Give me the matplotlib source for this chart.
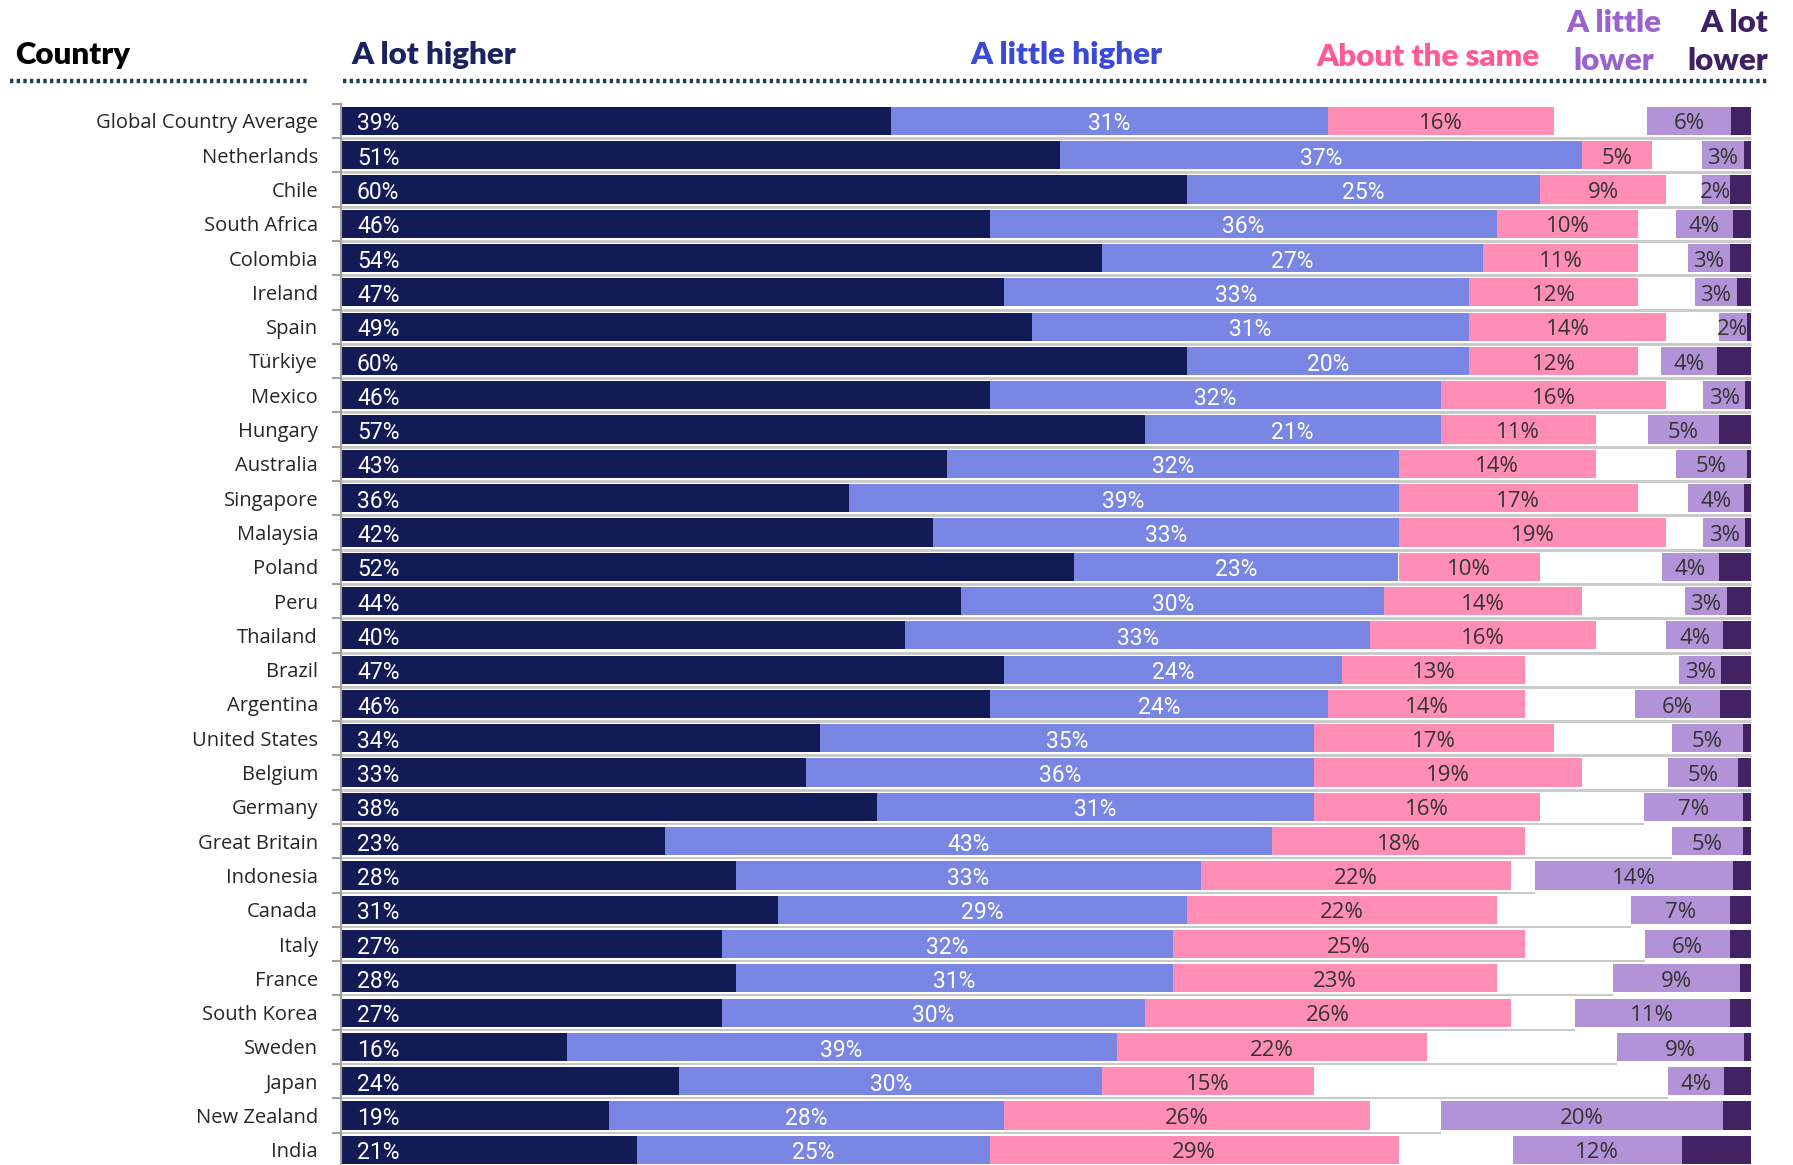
import numpy as np
import matplotlib
matplotlib.use("Agg")
import matplotlib.pyplot as plt
from matplotlib.lines import Line2D

countries = ["Global Country Average", "Netherlands", "Chile", "South Africa", "Colombia",
             "Ireland", "Spain", "Türkiye", "Mexico", "Hungary", "Australia", "Singapore",
             "Malaysia", "Poland", "Peru", "Thailand", "Brazil", "Argentina", "United States",
             "Belgium", "Germany", "Great Britain", "Indonesia", "Canada", "Italy", "France",
             "South Korea", "Sweden", "Japan", "New Zealand", "India"]
a_lot_higher = [39, 51, 60, 46, 54, 47, 49, 60, 46, 57, 43, 36, 42, 52, 44, 40, 47, 46, 34,
                33, 38, 23, 28, 31, 27, 28, 27, 16, 24, 19, 21]
a_little_higher = [31, 37, 25, 36, 27, 33, 31, 20, 32, 21, 32, 39, 33, 23, 30, 33, 24, 24, 35,
                   36, 31, 43, 33, 29, 32, 31, 30, 39, 30, 28, 25]
about_the_same = [16, 5, 9, 10, 11, 12, 14, 12, 16, 11, 14, 17, 19, 10, 14, 16, 13, 14, 17,
                  19, 16, 18, 22, 22, 25, 23, 26, 22, 15, 26, 29]
a_little_lower = [6, 3, 2, 4, 3, 3, 2, 4, 3, 5, 5, 4, 3, 4, 3, 4, 3, 6, 5,
                  5, 7, 5, 14, 7, 6, 9, 11, 9, 4, 20, 12]
a_lot_lower = [1.4, 0.5, 1.5, 1.3, 1.5, 1.0, 0.3, 2.4, 0.4, 2.3, 0.3, 0.5, 0.4, 2.3, 1.7, 2.0,
               2.1, 2.2, 0.6, 0.9, 0.6, 0.6, 1.3, 1.5, 1.5, 0.8, 1.5, 0.5, 1.9, 2.0, 4.9]
header_labels = ["A lot higher", "A little higher", "About the same", "A little\nlower", "A lot\nlower"]

C_LOT_HI = "#131b57"
C_LIT_HI = "#7a86e3"
C_SAME = "#ff8db6"
C_LIT_LO = "#b393d8"
C_LOT_LO = "#432264"

W, H = 1793, 1165
fig = plt.figure(figsize=(W / 100, H / 100), dpi=100)
top_px, bot_px = 103.7, 1167.0
ax = fig.add_axes([341 / W, 1 - bot_px / H, (1751 - 341) / W, (bot_px - top_px) / H])

n = len(countries)
y = np.arange(n)
lot_hi = np.array(a_lot_higher, float)
lit_hi = np.array(a_little_higher, float)
same = np.array(about_the_same, float)
lit_lo = np.array(a_little_lower, float)
lot_lo = np.array(a_lot_lower, float)

h = 0.82
left2 = lot_hi
left3 = lot_hi + lit_hi
lotlo_left = 100 - lot_lo
litlo_left = lotlo_left - lit_lo

# light grey separators under each row
for i in range(n):
    xend = 100 if i < 20 else litlo_left[i]
    lw = 2.0 if i < 20 else 1.4
    ax.plot([0, xend], [i + 0.5, i + 0.5], color="#c8c8c8", lw=lw, zorder=1,
            solid_capstyle="butt", clip_on=False)

ax.barh(y, lot_hi, height=h, left=0, color=C_LOT_HI, zorder=2)
ax.barh(y, lit_hi, height=h, left=left2, color=C_LIT_HI, zorder=2)
ax.barh(y, same, height=h, left=left3, color=C_SAME, zorder=2)
ax.barh(y, lit_lo, height=h, left=litlo_left, color=C_LIT_LO, zorder=2)
ax.barh(y, lot_lo, height=h, left=lotlo_left, color=C_LOT_LO, zorder=2)

lab_white = dict(color="white", fontsize=16.5, family="Roboto", va="center", zorder=3,
                 textcoords="offset points")
lab_dark = dict(color="#333333", fontsize=16, family="Open Sans", va="center", zorder=3,
                textcoords="offset points")
dy = -2.2
for i in range(n):
    ax.annotate(f"{a_lot_higher[i]}%", xy=(0, i), xytext=(11.5, dy), ha="left", **lab_white)
    ax.annotate(f"{a_little_higher[i]}%", xy=(left2[i] + lit_hi[i] / 2, i), xytext=(0, dy),
                ha="center", **lab_white)
    ax.annotate(f"{about_the_same[i]}%", xy=(left3[i] + same[i] / 2, i), xytext=(0, dy),
                ha="center", **lab_dark)
    ax.annotate(f"{a_little_lower[i]}%", xy=(litlo_left[i] + lit_lo[i] / 2, i), xytext=(0, dy),
                ha="center", **lab_dark)

ax.set_xlim(0, 100)
ax.set_ylim(n - 0.5, -0.5)
for s in ["top", "right", "bottom"]:
    ax.spines[s].set_visible(False)
ax.spines["left"].set_color("#a0a0a0")
ax.spines["left"].set_linewidth(1.5)
ax.set_xticks([])
ax.set_yticks(y)
ax.set_yticklabels(countries, family="Open Sans", fontsize=14.5, color="#262626")
ax.tick_params(axis="y", which="major", length=0, pad=16.5)
ax.set_yticks(np.arange(n + 1) - 0.5, minor=True)
ax.tick_params(axis="y", which="minor", length=6.5, width=1.5, color="#a0a0a0")


def fpt(x, yy):
    return x / W, 1 - yy / H


hdr = dict(family="Lato", fontweight="heavy", fontsize=22.5, va="baseline")
fig.text(*fpt(15, 64), "Country", color="black", ha="left", **hdr)
fig.text(*fpt(351, 64), header_labels[0], color="#1c2260", ha="left", **hdr)
fig.text(*fpt(1066, 64), header_labels[1], color="#3a4ad6", ha="center", **hdr)
fig.text(*fpt(1428, 66), header_labels[2], color="#ff5a93", ha="center", **hdr)
l1, l2 = header_labels[3].split("\n")
fig.text(*fpt(1614, 32), l1, color="#9a62cf", ha="center", **hdr)
fig.text(*fpt(1614, 70), l2, color="#9a62cf", ha="center", **hdr)
m1, m2 = header_labels[4].split("\n")
fig.text(*fpt(1768, 32), m1, color="#3f2063", ha="right", **hdr)
fig.text(*fpt(1768, 70), m2, color="#3f2063", ha="right", **hdr)

for x0, x1 in [(10, 309), (343, 1768)]:
    fig.add_artist(Line2D([x0 / W, x1 / W], [1 - 81 / H, 1 - 81 / H], transform=fig.transFigure,
                          color="#1f3f4f", lw=3.2, linestyle=(0, (0.75, 0.75)),
                          dash_capstyle="butt"))

fig.savefig("out.png", dpi=100)
